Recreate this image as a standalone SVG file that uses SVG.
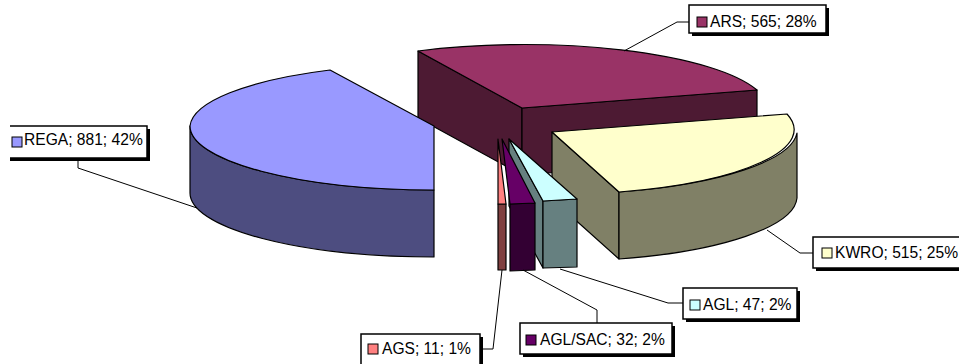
<svg xmlns="http://www.w3.org/2000/svg" width="959" height="364" viewBox="0 0 959 364">
<style>
.e{stroke:#000;stroke-width:1.2;stroke-linejoin:round}
.lead{fill:none;stroke:#000;stroke-width:1}
.shadow{fill:#000}
.box{fill:#fff;stroke:#000;stroke-width:1.5}
.sw{stroke:#000;stroke-width:1}
.t{font-family:"Liberation Sans",Arial,sans-serif;font-size:15.6px;fill:#000}
</style>
<rect width="959" height="364" fill="#fff"/>
<g id="slice-ars">
<polygon class="e" fill="#4D1A33" points="418,51 522,108 522,175 418,118"/>
<polygon class="e" fill="#4D1A33" points="522,108 757,90 757,157 522,175"/>
<path class="e" fill="#993366" d="M522,108 L418,51 A244,65 0 0,1 757,90 Z"/>
</g>
<g id="slice-rega">
<path class="e" fill="#4D4D80" d="M190,126 L190,193 A244,64 0 0,0 434,257 L434,190 A244,64 0 0,1 190,126 Z"/>
<path class="e" fill="#9999FF" d="M434,126 L330,70 A244,64 0 0,0 190,126 A244,64 0 0,0 434,190 Z"/>
</g>
<g id="slice-kwro">
<polygon class="e" fill="#808066" points="552,132 619,192 619,259 552,199"/>
<path class="e" fill="#808066" d="M619,192 A244,65 0 0,0 797,133 L797,198 A244,65 0 0,1 619,259 Z"/>
<path class="e" fill="#FFFFCC" d="M552,132 L787,114 A244,65 0 0,1 619,192 Z"/>
</g>
<g id="slice-agl">
<polygon class="e" fill="#668080" points="509,139 543,201 543,268 509,206"/>
<polygon class="e" fill="#668080" points="543,201 577,199 577,267 543,268"/>
<polygon class="e" fill="#CCFFFF" points="509,139 543,201 577,199"/>
</g>
<g id="slice-aglsac">
<polygon class="e" fill="#330033" points="510,204 535,203 535,270 510,271"/>
<polygon class="e" fill="#660066" points="502,139 510,204 535,203"/>
</g>
<g id="slice-ags">
<polygon class="e" fill="#804040" points="498,204 506,204 506,270 498,270"/>
<polygon class="e" fill="#FF8080" points="498,139 498,204 506,204"/>
</g>
<g id="connectors">
<polyline class="lead" points="624,51 677,22 689,22"/>
<polyline class="lead" points="767,230 800,253 813,253"/>
<polyline class="lead" points="560,269 668,303 683,303"/>
<polyline class="lead" points="523,270 597,310 597,323"/>
<polyline class="lead" points="502,270 493,349 480,349"/>
<polyline class="lead" points="197,208 78,168 78,158"/>
</g>
<g id="label-ars">
<rect class="shadow" x="692" y="8" width="137" height="28"/>
<rect class="box" x="689" y="5" width="137" height="28"/>
<rect class="sw" fill="#993366" x="697" y="17" width="10" height="10"/>
<text class="t" x="710" y="27">ARS; 565; 28%</text>
</g>
<g id="label-kwro">
<rect class="shadow" x="816" y="240" width="160" height="31"/>
<rect class="box" x="813" y="237" width="160" height="31"/>
<rect class="sw" fill="#FFFFCC" x="822" y="248" width="10" height="10"/>
<text class="t" x="835" y="258">KWRO; 515; 25%</text>
</g>
<g id="label-agl">
<rect class="shadow" x="686" y="291" width="114" height="31"/>
<rect class="box" x="683" y="288" width="114" height="31"/>
<rect class="sw" fill="#CCFFFF" x="690" y="300" width="10" height="10"/>
<text class="t" x="703" y="310">AGL; 47; 2%</text>
</g>
<g id="label-aglsac">
<rect class="shadow" x="523" y="326" width="152" height="31"/>
<rect class="box" x="520" y="323" width="152" height="31"/>
<rect class="sw" fill="#660066" x="526" y="335" width="10" height="10"/>
<text class="t" x="540" y="345">AGL/SAC; 32; 2%</text>
</g>
<g id="label-ags">
<rect class="shadow" x="364" y="337" width="119" height="31"/>
<rect class="box" x="361" y="334" width="119" height="31"/>
<rect class="sw" fill="#FF8080" x="368" y="344" width="10" height="10"/>
<text class="t" x="382" y="354">AGS; 11; 1%</text>
</g>
<g id="label-rega">
<path class="shadow" d="M10,129 H150 V161 H10 Z"/>
<rect x="10" y="126" width="137" height="32" fill="#fff"/>
<polyline fill="none" stroke="#000" stroke-width="1.5" points="10,126 147,126 147,158 10,158"/>
<rect class="sw" fill="#9999FF" x="12" y="137" width="10" height="10"/>
<text class="t" x="24" y="145">REGA; 881; 42%</text>
</g>
</svg>
